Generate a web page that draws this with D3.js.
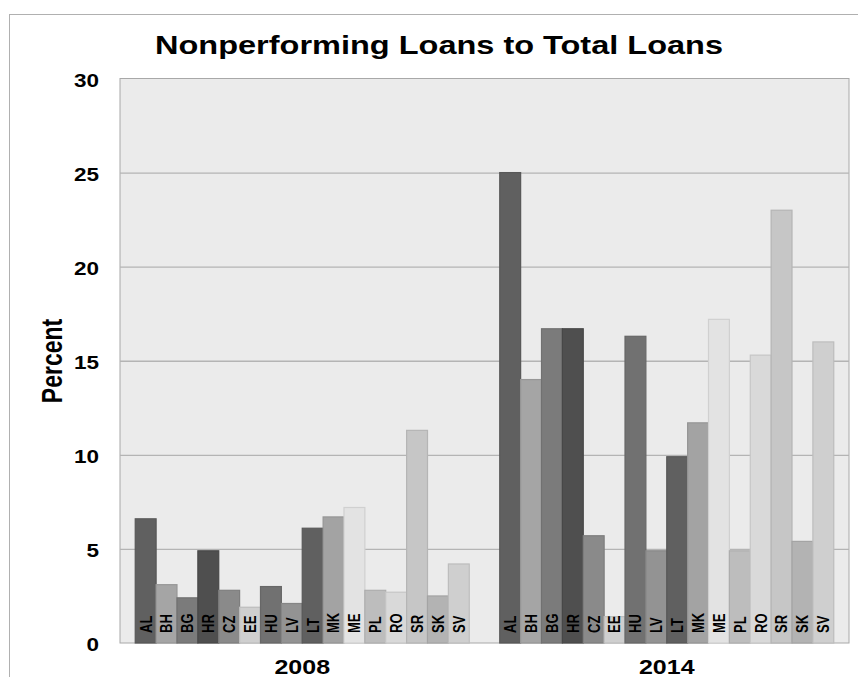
<!DOCTYPE html>
<html>
<head>
<meta charset="utf-8">
<script src="https://cdn.jsdelivr.net/npm/d3@7"></script>
<style>
  html, body { margin: 0; padding: 0; background: #fff; }
  svg { display: block; }
  text { font-family: "Liberation Sans", Arial, sans-serif; font-weight: bold; fill: #000; }
</style>
</head>
<body>
<svg id="chart" width="858" height="677"></svg>
<script>
// Nonperforming loans as a share of total loans, by country, 2008 vs 2014
const countries = ["AL","BH","BG","HR","CZ","EE","HU","LV","LT","MK","ME","PL","RO","SR","SK","SV"];
const years = ["2008", "2014"];
const npl2008 = [6.6, 3.1, 2.4, 4.9, 2.8, 1.9, 3.0, 2.1, 6.1, 6.7, 7.2, 2.8, 2.7, 11.3, 2.5, 4.2];
const npl2014 = [25.0, 14.0, 16.7, 16.7, 5.7, 1.4, 16.3, 4.9, 9.9, 11.7, 17.2, 4.9, 15.3, 23.0, 5.4, 16.0];
const yTicks = [0, 5, 10, 15, 20, 25, 30];
const countryColors = ["#606060","#a5a5a5","#7b7b7b","#4f4f4f","#8a8a8a","#cfcfcf","#717171","#939393",
                       "#606060","#a3a3a3","#e3e3e3","#bdbdbd","#d9d9d9","#c6c6c6","#b3b3b3","#cfcfcf"];

const seriesByYear = { "2008": npl2008, "2014": npl2014 };

// horizontal widening applied to all text
const SX = 1.25;

const svg = d3.select("#chart");
const plot = { left: 120, right: 849, top: 78.5, bottom: 643 };

// outer frame
svg.append("rect")
  .attr("x", 9.5).attr("y", 14.5)
  .attr("width", 900).attr("height", 700)
  .attr("fill", "none").attr("stroke", "#b0b0b0").attr("stroke-width", 1);

const y = d3.scaleLinear().domain([0, 30]).range([plot.bottom, plot.top]);
const x0 = d3.scaleBand().domain(years).range([plot.left, plot.right])
  .paddingInner(0.0837).paddingOuter(0.0418);
const x1 = d3.scaleBand().domain(countries).range([0, x0.bandwidth()]);
const color = d3.scaleOrdinal().domain(countries).range(countryColors);

// plot background
svg.append("rect")
  .attr("x", plot.left).attr("y", y(30))
  .attr("width", plot.right - plot.left).attr("height", y(0) - y(30))
  .attr("fill", "#ebebeb").attr("stroke", "#a8a8a8").attr("stroke-width", 1);

// gridlines
const grid = svg.append("g")
  .attr("transform", `translate(${plot.left},0)`)
  .call(d3.axisLeft(y).tickValues(yTicks.filter(t => t > 0 && t < 30))
    .tickSize(-(plot.right - plot.left)).tickFormat(""));
grid.select(".domain").remove();
grid.selectAll(".tick line").attr("stroke", "#b4b4b4").attr("stroke-width", 1.3);

// y tick labels
const yAxis = svg.append("g")
  .attr("transform", `translate(${plot.left},0)`)
  .call(d3.axisLeft(y).tickValues(yTicks).tickSize(0).tickPadding(21));
yAxis.select(".domain").remove();
yAxis.selectAll(".tick text")
  .attr("x", 0).attr("dy", "0.43em")
  .attr("transform", `translate(-21,0) scale(${SX},1)`)
  .attr("font-size", 18)
  .attr("font-family", "'Liberation Sans', Arial, sans-serif")
  .attr("font-weight", "bold")
  .attr("fill", "#000")
  .attr("text-anchor", "end");

// bars
const strokeFor = c => {
  const g = d3.gray(c).l;
  return g > 55 ? "#888888" : d3.color(c).darker(0.25).formatHex();
};

const groups = svg.append("g").selectAll("g")
  .data(years)
  .join("g")
  .attr("transform", d => `translate(${x0(d)},0)`);

groups.selectAll("rect")
  .data(yr => countries.map((c, i) => ({ c, v: seriesByYear[yr][i] })))
  .join("rect")
  .attr("x", d => x1(d.c))
  .attr("y", d => y(d.v))
  .attr("width", x1.bandwidth())
  .attr("height", d => y(0) - y(d.v))
  .attr("fill", d => color(d.c))
  .attr("stroke", d => strokeFor(color(d.c)))
  .attr("stroke-width", 1.2);

// country codes inside the bars
groups.selectAll("text")
  .data(countries)
  .join("text")
  .attr("transform", c => `translate(${x1(c) + x1.bandwidth() / 2},633) scale(${SX},1) rotate(-90)`)
  .attr("dy", "0.36em")
  .attr("text-anchor", "start")
  .attr("font-size", 13)
  .text(c => c);

// year labels
svg.append("g").selectAll("text")
  .data(years)
  .join("text")
  .attr("transform", d => `translate(${x0(d) + x0.bandwidth() / 2},674) scale(${SX},1)`)
  .attr("text-anchor", "middle")
  .attr("font-size", 20)
  .text(d => d);

// y axis title
svg.append("text")
  .attr("transform", `translate(52,361) scale(${SX},1) rotate(-90)`)
  .attr("text-anchor", "middle")
  .attr("dy", "0.36em")
  .attr("font-size", 23)
  .text("Percent");

// chart title
svg.append("text")
  .attr("transform", `translate(439,54) scale(${SX},1)`)
  .attr("text-anchor", "middle")
  .attr("font-size", 26)
  .text("Nonperforming Loans to Total Loans");
</script>
</body>
</html>
